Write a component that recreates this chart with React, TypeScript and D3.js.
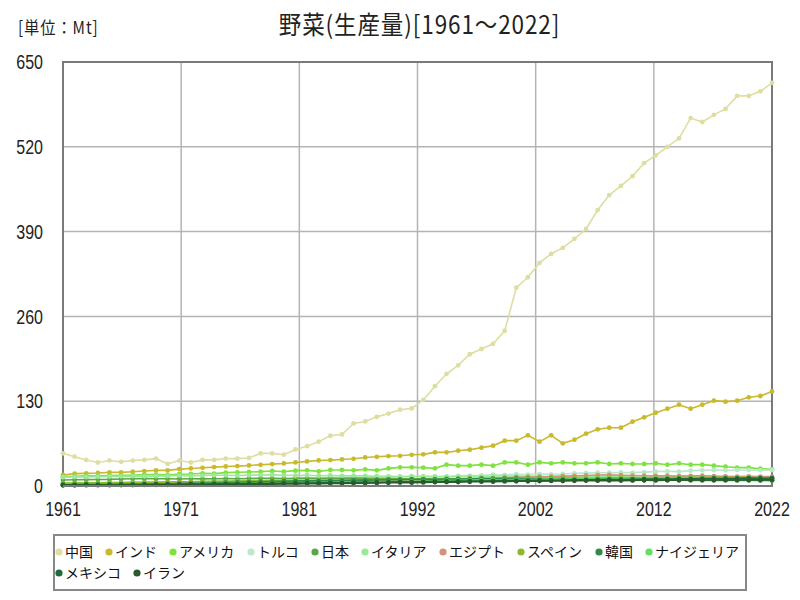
import React from "react";
import * as d3 from "d3";

const years: number[] = d3.range(1961, 2023);

const seriesNames: string[] = ["中国", "インド", "アメリカ", "トルコ", "日本", "イタリア", "エジプト", "スペイン", "韓国", "ナイジェリア", "メキシコ", "イラン"];
const seriesColors: string[] = ["#dedea2", "#c9b92c", "#7ee33c", "#b9e9c9", "#5aa845", "#9ae89a", "#d4917c", "#8cba2a", "#2e8b4a", "#60e060", "#1e6b3a", "#2a5a2c"];

const china = [50, 45, 40, 36, 39, 37, 39, 40, 42, 34, 39, 36, 40, 40, 42, 42, 43, 50, 50, 48, 56, 61, 68, 77, 79, 96, 99, 106, 111, 117, 119, 132, 153, 172, 185, 202, 210, 218, 238, 304, 320, 342, 356, 365, 379, 394, 423, 446, 460, 475, 495, 507, 520, 533, 564, 558, 569, 578, 598, 598, 605, 618];
const india = [16.9, 18.9, 19.4, 19.9, 20.9, 20.9, 21.9, 22.9, 23.9, 23.9, 25.9, 26.9, 27.9, 29.0, 30.0, 30.5, 31.5, 32.5, 33.6, 34.6, 36.1, 37.7, 39.2, 39.7, 40.7, 41.7, 43.8, 44.8, 45.8, 46.3, 47.8, 48.5, 51.6, 51.6, 54.1, 55.7, 58.8, 61.8, 69.5, 69.5, 77.7, 68, 77.7, 65.4, 71, 80.2, 86.9, 89.4, 89.4, 98.6, 105.3, 112.4, 118.5, 124.6, 118.5, 124.6, 130.8, 129.3, 130.8, 136, 138, 145];
const usa = [14.3, 15, 15.5, 15.5, 16, 16.5, 16.5, 17.5, 17.5, 17, 18, 18.4, 19.5, 19, 20.5, 21, 21.5, 22, 23, 22, 23.5, 24, 22.5, 24.5, 24.5, 24, 25.5, 24, 27, 28.6, 28.6, 28.1, 27.1, 32.7, 31.2, 31.2, 32.7, 31.2, 36.2, 36.2, 32.7, 36.2, 34.7, 36.2, 34.7, 34.7, 36.2, 33.7, 34.7, 33.7, 33.7, 34.7, 32.7, 34.7, 32.7, 32.7, 31.2, 29.6, 28.1, 28.1, 26.5, 25.5];
const turkey = [4, 4.3, 4.6, 4.8, 5, 5.3, 5.5, 5.8, 6, 6.3, 6.6, 7, 7.2, 7.6, 8, 8.5, 9, 9.3, 9.8, 10.2, 10.6, 11, 11.2, 11.6, 12, 12.5, 13, 13.2, 13, 13.8, 14, 14.3, 14.6, 14.4, 15.5, 16, 16.2, 17.5, 17.2, 18, 17.5, 18.2, 17.9, 18.5, 19.5, 19.8, 20.4, 20.4, 20.8, 20.5, 21.2, 22, 22.5, 22, 23.5, 24, 24.5, 24.2, 24.5, 24.5, 24, 24.5];
const japan = [9.2, 9.5, 9.8, 10, 10.2, 10.8, 11, 11.5, 11.2, 11, 10.8, 11, 11, 11.2, 11.3, 11.2, 11.6, 11.8, 11.8, 11.6, 11.8, 12, 11.8, 12, 11.9, 12, 11.8, 11.5, 11.5, 11.2, 10.8, 11, 10.5, 10.4, 10.3, 10.2, 10, 9.8, 9.9, 9.8, 9.7, 9.5, 9.3, 9.2, 9.2, 9, 9.1, 9.1, 9, 8.8, 8.8, 8.9, 8.8, 8.8, 8.7, 8.6, 8.6, 8.5, 8.6, 8.4, 8.4, 8.3];
const italy = [13.5, 14, 13.8, 14.2, 14.5, 14.8, 15, 14.8, 15.2, 15.5, 16, 15.5, 16, 16.5, 16.5, 16, 16.5, 16.8, 17, 16.5, 16, 16.5, 15.8, 16.2, 15.5, 15.8, 15.5, 15, 14.8, 14.5, 15, 14.8, 14.3, 14.5, 14.2, 14.8, 14.5, 15, 15.5, 15.2, 14.8, 14.5, 14.2, 15.5, 15, 14.5, 14.8, 14.2, 14.5, 14, 13.5, 13.2, 13, 13.2, 13.5, 13, 12.8, 12.5, 12.5, 12.8, 12.5, 12.2];
const egypt = [3.5, 3.6, 3.8, 4, 4.2, 4.3, 4.2, 4.5, 4.7, 4.8, 5, 5.2, 5.3, 5.5, 5.8, 6, 6.2, 6.4, 6.6, 6.8, 7, 7.3, 7.5, 7.8, 8, 8.3, 8.5, 8.8, 9, 9.5, 9.3, 9.8, 10.2, 10.5, 11, 11.5, 12, 12.2, 12.8, 13.5, 13.8, 14.2, 14.5, 15, 15.5, 16.2, 16.8, 17, 16.5, 16, 15.8, 15.5, 15.8, 15.2, 15.5, 15.8, 15.2, 14.8, 14.5, 14.8, 14.5, 14.3];
const spain = [4.5, 4.7, 4.9, 5.0, 5.2, 5.4, 5.6, 5.8, 6.0, 6.2, 6.4, 6.6, 6.9, 7.1, 7.3, 7.5, 7.8, 8.0, 8.2, 8.4, 8.6, 8.8, 9.0, 9.1, 9.3, 9.5, 9.7, 9.9, 10.1, 10.2, 10.4, 10.3, 10.6, 10.8, 10.5, 11.0, 11.2, 11.5, 11.8, 12.0, 12.2, 12.0, 12.3, 12.5, 12.2, 12.0, 12.3, 12.5, 12.8, 12.5, 12.6, 12.8, 13.0, 13.2, 13.0, 13.3, 13.5, 13.2, 13.0, 13.2, 12.8, 12.5];
const korea = [1.5, 1.6, 1.8, 2.0, 2.2, 2.4, 2.6, 2.8, 3.0, 3.3, 3.6, 4.0, 4.4, 4.8, 5.2, 5.6, 6.0, 6.5, 7.0, 7.3, 7.6, 7.8, 8.0, 8.3, 8.5, 8.8, 9.0, 9.3, 9.6, 9.8, 10.0, 10.2, 10.3, 10.5, 10.8, 11.0, 11.2, 11.0, 11.3, 11.5, 11.2, 11.0, 10.8, 10.5, 10.6, 10.4, 10.2, 10.0, 10.1, 9.8, 9.8, 9.6, 9.5, 9.6, 9.4, 9.2, 9.3, 9.2, 9.0, 9.1, 9.0, 8.9];
const nigeria = [2.5, 2.6, 2.7, 2.8, 2.9, 3.0, 3.0, 3.1, 3.2, 3.3, 3.4, 3.5, 3.6, 3.7, 3.8, 3.9, 4.0, 4.1, 4.2, 4.3, 4.4, 4.5, 4.6, 4.8, 5.0, 5.2, 5.5, 5.8, 6.2, 6.6, 7.0, 7.4, 7.8, 8.2, 8.5, 8.8, 9.0, 9.3, 9.5, 9.8, 10.0, 10.2, 10.5, 10.3, 10.6, 10.8, 11.0, 11.2, 11.0, 11.3, 11.5, 11.2, 11.4, 11.6, 11.8, 11.5, 11.7, 11.9, 12.0, 11.8, 12.0, 12.2];
const mexico = [2.0, 2.1, 2.3, 2.2, 2.4, 2.6, 2.5, 2.7, 2.9, 2.8, 3.0, 3.2, 3.1, 3.3, 3.6, 3.5, 3.8, 4.1, 4.0, 4.4, 4.7, 4.6, 5.0, 5.3, 5.2, 5.6, 5.9, 5.8, 6.2, 6.5, 6.4, 6.8, 7.1, 7.0, 7.4, 7.7, 7.6, 8.0, 8.3, 8.2, 8.6, 8.9, 8.8, 9.2, 9.5, 9.4, 9.8, 10.1, 10.0, 10.3, 10.6, 10.5, 10.8, 11.1, 11.0, 11.4, 11.6, 11.5, 11.8, 12.0, 11.9, 12.2];
const iran = [1.0, 1.1, 1.2, 1.2, 1.3, 1.5, 1.4, 1.6, 1.7, 1.8, 1.9, 2.1, 2.0, 2.3, 2.5, 2.4, 2.7, 2.9, 2.8, 3.1, 3.3, 3.5, 3.4, 3.8, 4.0, 4.3, 4.2, 4.6, 4.9, 5.2, 5.1, 5.5, 5.8, 6.1, 6.0, 6.4, 6.7, 6.6, 7.0, 7.3, 7.2, 7.5, 7.8, 7.7, 8.0, 8.3, 8.2, 8.5, 8.3, 8.6, 8.8, 8.7, 9.0, 8.9, 9.1, 9.3, 9.2, 9.4, 9.3, 9.5, 9.4, 9.6];

const seriesValues: number[][] = [china, india, usa, turkey, japan, italy, egypt, spain, korea, nigeria, mexico, iran];

const yTicks: number[] = [0, 130, 260, 390, 520, 650];
const xTickLabels: string[] = ["1961", "1971", "1981", "1992", "2002", "2012", "2022"];

const titleText = "野菜(生産量)[1961～2022]";
const unitText = "[単位：Mt]";

const W = 800;
const H = 600;
const plot = { left: 63, right: 772, top: 62, bottom: 486 };
const numFont = "'Liberation Sans', Arial, sans-serif";
const jpFont = "'Noto Sans CJK JP', sans-serif";
const narrow = 0.8;

export default function App() {
  const x = d3.scaleLinear().domain([1961, 2022]).range([plot.left, plot.right]);
  const y = d3.scaleLinear().domain([0, 650]).range([plot.bottom, plot.top]);
  const xTickScale = d3.scalePoint<string>().domain(xTickLabels).range([plot.left, plot.right]);

  const line = d3
    .line<number>()
    .x((_, i) => x(years[i]))
    .y((d) => y(d));

  // legend layout
  const legendFontSize = 14;
  const legendLeft = 59;
  const legendRight = 752;
  const rows: { name: string; color: string; x: number; row: number }[] = [];
  let cx = legendLeft;
  let row = 0;
  seriesNames.forEach((name, i) => {
    const w = 10 + name.length * legendFontSize;
    if (cx + w > legendRight) {
      row += 1;
      cx = legendLeft;
    }
    rows.push({ name, color: seriesColors[i], x: cx, row });
    cx += w + 12;
  });

  return (
    <div style={{ position: "absolute", left: 0, top: 0 }}>
      <svg width={W} height={H} style={{ display: "block", background: "#fff" }}>
        <text transform={`translate(18,34) scale(0.9,1)`} fontFamily={jpFont} fontSize={17} fill="#222" letterSpacing={1}>
          {unitText}
        </text>
        <text transform={`translate(${(plot.left + plot.right) / 2 + 2},34) scale(0.9,1)`} textAnchor="middle" fontFamily={jpFont} fontSize={25} fill="#222" letterSpacing={1}>
          {titleText}
        </text>

        {/* grid */}
        {yTicks.map((t) => (
          <line key={"gy" + t} x1={plot.left} x2={plot.right} y1={y(t)} y2={y(t)} stroke="#b4b4b4" strokeWidth={1.5} />
        ))}
        {xTickLabels.map((t) => (
          <line key={"gx" + t} x1={xTickScale(t)} x2={xTickScale(t)} y1={plot.top} y2={plot.bottom} stroke="#b4b4b4" strokeWidth={1.5} />
        ))}
        <rect x={plot.left} y={plot.top} width={plot.right - plot.left} height={plot.bottom - plot.top} fill="none" stroke="#7a7a7a" strokeWidth={2} />

        {/* y labels */}
        {yTicks.map((t) => (
          <text key={"yl" + t} transform={`translate(43,${y(t)}) scale(${narrow},1)`} dy="0.36em" textAnchor="end" fontFamily={numFont} fontSize={20} fill="#222">
            {t}
          </text>
        ))}
        {xTickLabels.map((t) => (
          <text key={"xl" + t} transform={`translate(${xTickScale(t)},509) scale(${narrow},1)`} dy="0.36em" textAnchor="middle" fontFamily={numFont} fontSize={20} fill="#222">
            {t}
          </text>
        ))}

        {/* series */}
        {seriesValues.map((vals, si) => (
          <g key={"s" + si}>
            <path d={line(vals) || ""} fill="none" stroke={seriesColors[si]} strokeWidth={1.6} />
            {vals.map((v, i) => (
              <circle key={i} cx={x(years[i])} cy={y(v)} r={2.4} fill={seriesColors[si]} />
            ))}
          </g>
        ))}
        <line x1={plot.left} x2={plot.right} y1={plot.bottom} y2={plot.bottom} stroke="#7a7a7a" strokeWidth={2} />

        {/* legend */}
        <rect x={54} y={535} width={692} height={55} fill="none" stroke="#888" strokeWidth={2} />
        {rows.map((r) => (
          <g key={"lg" + r.name}>
            <circle cx={r.x} cy={552 + r.row * 21} r={3.6} fill={r.color} />
            <text x={r.x + 6} y={552 + r.row * 21} dy="0.36em" fontFamily={jpFont} fontSize={legendFontSize} fill="#111">
              {r.name}
            </text>
          </g>
        ))}
      </svg>
    </div>
  );
}
